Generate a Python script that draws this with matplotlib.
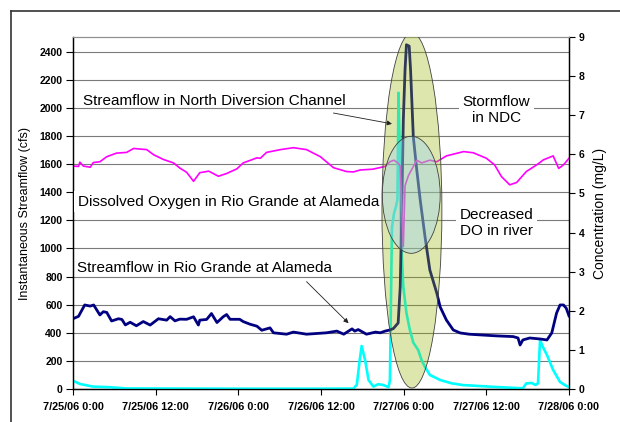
import matplotlib
matplotlib.use('Agg')
import matplotlib.pyplot as plt
from matplotlib.patches import Ellipse
from matplotlib.lines import Line2D

plt.rcParams['font.family'] = ['Liberation Sans', 'DejaVu Sans']

# hours since 7/25/06 0:00
rg_t = [0, 0.8, 1.7, 2.5, 3.0, 3.9, 4.4, 4.9, 5.6, 6.6, 7.1, 7.6, 8.3, 9.2, 10.2, 11.2,
        12.4, 13.6, 14.1, 14.8, 15.5, 16.5, 17.5, 18.2, 18.4, 19.4, 20.1, 20.9, 21.8, 22.3,
        22.8, 24.2, 24.7, 25.7, 26.7, 27.4, 28.6, 29.1, 31.0, 32.0, 33.9, 36.8, 38.3, 39.3,
        40.5, 40.9, 41.4, 42.6, 43.9, 44.6, 45.3, 46.0, 46.5, 47.2, 47.5, 47.7, 47.95, 48.2,
        48.4, 48.8, 49.0, 49.4, 49.9, 50.4, 51.1, 51.8, 52.8, 53.3, 54.2, 55.2, 56.2, 57.5,
        59.1, 61.5, 63.9, 64.6, 64.9, 65.3, 66.3, 67.8, 68.8, 69.5, 70.2, 70.7, 71.2, 71.6, 72.0]
rg_flow = [500, 517, 598, 590, 598, 527, 550, 545, 484, 500, 495, 456, 475, 450, 480, 455,
           500, 490, 515, 485, 497, 496, 514, 455, 490, 495, 537, 473, 514, 530,
           496, 496, 480, 461, 447, 418, 435, 400, 390, 405, 390, 400, 412, 390,
           428, 412, 423, 390, 405, 400, 412, 420, 430, 470, 726, 1204, 1916, 2272,
           2450, 2440, 2272, 1795, 1560, 1346, 1083, 847, 684, 584, 491, 420, 399, 390,
           385, 378, 373, 363, 313, 349, 363, 356, 349, 399, 541, 598, 598, 575, 520]

ndc_t = [0, 1.0, 2.9, 5.3, 7.7, 15, 25, 35, 40.7, 41.2, 41.6, 41.9, 42.4, 42.9, 43.6, 44.3,
         45.0, 45.8, 46.0, 46.3, 46.6, 46.9, 47.1, 47.25, 47.45, 47.6, 47.95, 48.4, 48.9,
         49.4, 50.1, 50.6, 51.1, 51.8, 53.3, 55.0, 56.6, 61.5, 65.3, 65.8, 66.6, 67.1, 67.5,
         67.8, 68.2, 68.8, 69.7, 70.7, 71.5, 72.0]
ndc_flow = [59, 36, 17, 13, 4, 3, 2, 2, 3, 30, 200, 306, 206, 64, 17, 34,
            29, 13, 60, 1150, 1250, 1300, 1350, 2108, 1700, 1080, 726, 541, 420,
            330, 278, 206, 157, 100, 64, 40, 28, 14, 5, 40, 43, 29, 40,
            349, 300, 242, 135, 50, 25, 14]

do_t = [0, 0.8, 1.0, 1.5, 2.5, 2.95, 3.9, 4.9, 6.3, 7.8, 8.8, 10.7, 11.7, 13.1, 14.6, 15.5,
        16.5, 17.5, 18.4, 19.7, 21.1, 22.3, 23.8, 24.7, 26.7, 27.2, 28.1, 30.1, 32.0, 33.9,
        35.9, 37.8, 39.7, 40.7, 41.7, 43.5, 45.3, 46.0, 46.6, 47.2, 47.5, 47.95, 48.2, 48.7,
        49.9, 50.6, 51.8, 52.8, 54.2, 56.7, 58.1, 60.0, 61.2, 62.2, 63.4, 64.4, 65.8, 67.3,
        68.3, 69.7, 70.5, 71.2, 72.0]
do_conc = [5.70, 5.69, 5.80, 5.70, 5.67, 5.79, 5.81, 5.94, 6.03, 6.05, 6.15, 6.12, 5.99, 5.87,
           5.78, 5.65, 5.54, 5.31, 5.53, 5.57, 5.44, 5.51, 5.63, 5.78, 5.91, 5.90, 6.05, 6.12,
           6.17, 6.12, 5.94, 5.66, 5.56, 5.55, 5.60, 5.62, 5.69, 5.81, 5.85, 5.77, 5.70, 3.64,
           5.20, 5.46, 5.85, 5.78, 5.85, 5.81, 5.96, 6.07, 6.04, 5.90, 5.73, 5.43, 5.22, 5.28,
           5.56, 5.73, 5.86, 5.96, 5.64, 5.73, 5.90]

x_ticks = [0, 12, 24, 36, 48, 60, 72]
x_labels = ['7/25/06 0:00', '7/25/06 12:00', '7/26/06 0:00', '7/26/06 12:00',
            '7/27/06 0:00', '7/27/06 12:00', '7/28/06 0:00']
flow_ticks = list(range(0, 2401, 200))
conc_ticks = list(range(0, 10))

fig = plt.figure(figsize=(6.2, 4.22), dpi=100)
ax = fig.add_axes([73 / 620, 33 / 422, 496 / 620, 352 / 422])
ax2 = ax.twinx()

ax.set_axisbelow(True)
ax.yaxis.grid(True, color='#7a7a7a', lw=0.8)
ax.plot(ndc_t, ndc_flow, color='#00FFFF', lw=1.9, zorder=3)
ax.plot(rg_t, rg_flow, color='#000080', lw=2.0, zorder=4)
ax2.plot(do_t, do_conc, color='#FF00FF', lw=1.2)

ax.set_xlim(0, 72)
ax.set_ylim(0, 2505)
ax2.set_ylim(0, 9)
ax.set_xticks(x_ticks)
ax.set_xticklabels(x_labels, fontsize=7.8, fontweight='bold')
ax.set_yticks(flow_ticks)
ax.set_yticklabels([str(v) for v in flow_ticks], fontsize=7.5, fontweight='bold')
ax2.set_yticks(conc_ticks)
ax2.set_yticklabels([str(v) for v in conc_ticks], fontsize=7.5, fontweight='bold')
ax.tick_params(axis='x', length=4, pad=5)
ax.tick_params(axis='y', length=5, pad=2.5)
ax2.tick_params(axis='y', length=4, pad=3)

for a in (ax, ax2):
    a.spines['top'].set_color('#909090')
    a.spines['top'].set_linewidth(0.8)
    for s in ('left', 'right', 'bottom'):
        a.spines[s].set_linewidth(0.9)

ax.set_ylabel('Instantaneous Streamflow (cfs)', fontsize=9, labelpad=6)
ax2.set_ylabel('Concentration (mg/L)', fontsize=10, labelpad=6)

# highlight ellipses (drawn over the lines)
ax2.add_patch(Ellipse((49.2, 1271), 8.7, 2528, transform=ax.transData,
                      facecolor=(0.59, 0.71, 0.0, 0.32), edgecolor='#404040', lw=0.6, zorder=5))
ax2.add_patch(Ellipse((49.1, 1382), 8.4, 833, transform=ax.transData,
                      facecolor=(0.59, 0.82, 1.0, 0.35), edgecolor='#404040', lw=0.6, zorder=6))

txt = dict(fontsize=11, transform=ax.transData)
box = dict(facecolor='white', edgecolor='none', pad=2.5)
ax2.text(1.45, 2053, 'Streamflow in North Diversion Channel', va='center', ha='left',
         zorder=8, **txt)
ax2.text(0.7, 1332, 'Dissolved Oxygen in Rio Grande at Alameda', va='center', ha='left',
         bbox=box, zorder=4.5, **txt)
ax2.text(0.6, 862, 'Streamflow in Rio Grande at Alameda', va='center', ha='left',
         zorder=8, **txt)
ax2.text(61.5, 1985, 'Stormflow\nin NDC', va='center', ha='center', linespacing=1.25,
         bbox=box, zorder=8, **txt)
ax2.text(61.5, 1182, 'Decreased\nDO in river', va='center', ha='center', linespacing=1.25,
         bbox=box, zorder=8, **txt)

arrow = dict(arrowstyle='-|>', color='#202020', lw=0.6, mutation_scale=7, shrinkA=0, shrinkB=0)
ax2.annotate('', xy=(46.3, 1887), xytext=(37.8, 1964), xycoords=ax.transData,
             textcoords=ax.transData, arrowprops=arrow, zorder=8)
ax2.annotate('', xy=(40.0, 468), xytext=(33.9, 764), xycoords=ax.transData,
             textcoords=ax.transData, arrowprops=arrow, zorder=8)

# outer frame (left and top edges visible)
fig.add_artist(Line2D([11 / 620, 11 / 620], [0, 1 - 11 / 422], color='#333333', lw=1.2))
fig.add_artist(Line2D([11 / 620, 1], [1 - 11 / 422, 1 - 11 / 422], color='#333333', lw=1.2))

fig.savefig('out.png', dpi=100)
